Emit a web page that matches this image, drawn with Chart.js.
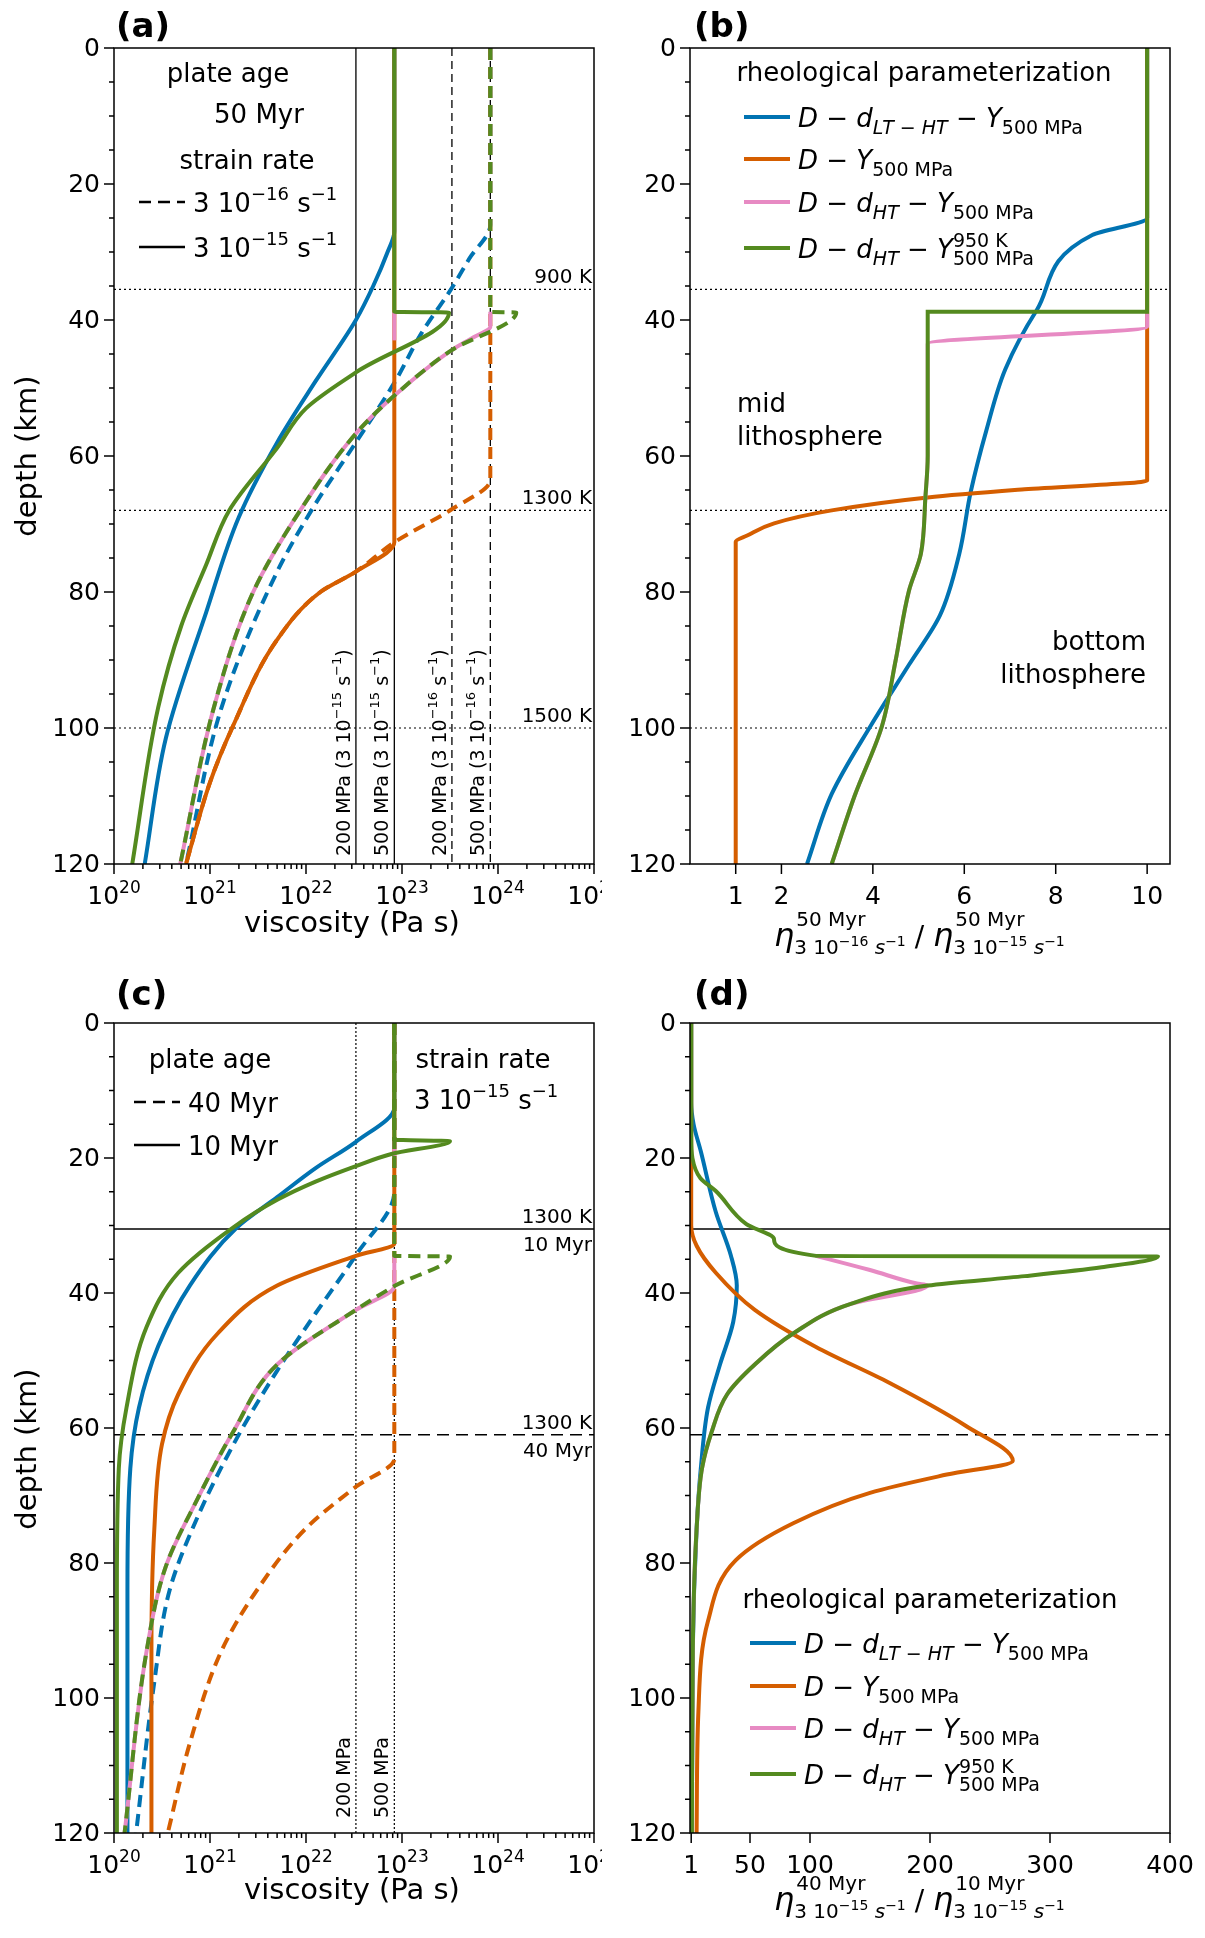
<!DOCTYPE html>
<html>
<head>
<meta charset="utf-8">
<script src="https://cdn.jsdelivr.net/npm/chart.js@4.4.1/dist/chart.umd.min.js"></script>
<style>
  body { margin: 0; background: #fff; width: 1205px; height: 1938px; position: relative; overflow: hidden; }
  canvas { position: absolute; }
</style>
</head>
<body>
<canvas id="pa" width="602" height="969" style="left:0;top:0"></canvas>
<canvas id="pb" width="603" height="969" style="left:602px;top:0"></canvas>
<canvas id="pc" width="602" height="969" style="left:0;top:969px"></canvas>
<canvas id="pd" width="603" height="969" style="left:602px;top:969px"></canvas>
<script>

// =======================
// COLOURS / FONT
// =======================

const BLUE = "#0173b2";
const ORANGE = "#d55e00";
const PINK = "#e78ac3";
const GREEN = "#548a1f";
const FONT = "DejaVu Sans";

// =======================
// DATA  [log10 viscosity or ratio, depth km]
// =======================

// panel (a) : 50 Myr, strain rate 3e-15 (solid) / 3e-16 (dashed)
const aBlueSolid   = [[22.92,0],[22.92,27],[22.85,30],[22.7,35],[22.52,40],[22.1,49],[21.7,58],[21.3,69],[20.96,83],[20.54,101.5],[20.32,120]];
const aGreenSolid  = [[22.92,0],[22.92,38.8],[23.49,38.9],[22.52,47.7],[22.0,53],[21.7,58.8],[21.2,68],[20.96,76],[20.7,85],[20.46,97],[20.19,120]];
const aPinkSolid   = [[22.92,38.8],[22.92,43]];
const aOrangeSolid = [[22.92,0],[22.92,72.7],[22.52,77],[22.15,80],[21.7,87],[21.24,99.7],[21.0,108],[20.75,120]];
const aBlueDash    = [[23.92,0],[23.92,26],[23.7,31],[23.51,35.5],[23.2,42],[22.93,49],[22.52,58],[22.1,67],[21.7,77],[21.12,97],[20.75,120]];
const aGreenDash   = [[23.92,0],[23.92,38.8],[24.19,38.9],[23.51,44.5],[22.93,51],[22.52,56.7],[21.94,68],[21.45,80],[21.04,97],[20.69,120]];
const aPinkDash    = [[23.92,38.8],[23.92,41],[23.75,42.5],[23.51,44.5],[22.93,51],[22.52,56.7],[21.94,68],[21.45,80],[21.04,97],[20.69,120]];
const aOrangeDash  = [[23.92,0],[23.92,63.5],[23.51,67.9],[22.93,72.6],[22.52,77],[22.15,80],[21.7,87],[21.24,99.7],[21.0,108],[20.75,120]];
const aStressSolid = [22.52, 22.92];
const aStressDash  = [23.52, 23.92];
const tempDepths   = [35.5, 68, 100];
const tempLabels   = ["900 K", "1300 K", "1500 K"];

// panel (b) : ratio of viscosities
const bBlue   = [[10,0],[10,25],[8.8,27.5],[7.58,38.6],[6.9,47.2],[6.48,56.3],[6.14,65.3],[5.89,74.4],[5.47,83.4],[4.79,90.7],[3.95,99.7],[3.1,109.7],[2.56,120]];
const bOrange = [[10,0],[10,63.6],[7.32,64.9],[5.2,66.1],[3.1,68],[1.84,69.9],[1.25,71.7],[1,72.6],[1,120]];
const bPink   = [[10,39],[10,41],[5.2,43.5],[5.2,60],[5.15,66],[5.05,74.4],[4.79,79.8],[4.5,90],[4.2,99.7],[3.6,110],[3.1,120]];
const bGreen  = [[10,0],[10,38.8],[5.2,38.8],[5.2,60],[5.15,66],[5.05,74.4],[4.79,79.8],[4.5,90],[4.2,99.7],[3.6,110],[3.1,120]];
const bTicks  = [1, 2, 4, 6, 8, 10];

// panel (c) : strain rate 3e-15, 10 Myr (solid) / 40 Myr (dashed)
const cGreenSolid  = [[22.92,0],[22.92,17.3],[23.5,17.5],[22.89,19.4],[22.52,21.2],[22.1,23.5],[21.7,26.2],[21.24,30.3],[20.67,37],[20.34,45],[20.13,57],[20.05,66],[20.03,84],[20.03,120]];
const cBlueSolid   = [[22.92,0],[22.92,12.5],[22.52,17.6],[22.1,21.5],[21.7,25.8],[21.28,30.3],[20.79,38.9],[20.46,47.9],[20.26,57],[20.17,66],[20.14,84],[20.14,120]];
const cOrangeSolid = [[22.92,0],[22.92,32.7],[22.52,34.5],[21.7,38.9],[21.08,46],[20.67,55],[20.5,62.4],[20.42,75],[20.39,93],[20.39,120]];
const cPinkSolid   = [[22.92,17.5],[22.92,20]];
const cBlueDash    = [[22.92,0],[22.92,25],[22.52,34.4],[22.1,43],[21.7,51.5],[21.28,61.5],[20.87,73.2],[20.58,84],[20.42,97.6],[20.23,120]];
const cGreenDash   = [[22.92,0],[22.92,34.5],[23.5,34.6],[22.93,38.9],[22.52,42.5],[21.7,50.6],[21.24,60.6],[20.87,70.5],[20.54,80.5],[20.34,93],[20.11,120]];
const cPinkDash    = [[22.92,34.5],[22.92,39],[22.52,42.5],[21.7,50.6],[21.24,60.6],[20.87,70.5],[20.54,80.5],[20.34,93],[20.11,120]];
const cOrangeDash  = [[22.92,0],[22.92,64.6],[22.52,68.7],[21.99,75],[21.49,84],[21.12,93],[20.79,106.7],[20.56,120]];
const cStress      = [22.52, 22.92];
const cIsoSolid    = 30.5;
const cIsoDash     = 61;

// panel (d) : ratio 40 Myr / 10 Myr
const dGreen  = [[1,0],[1,17],[2,20],[8.7,23],[21.5,24.9],[47,29.8],[70,32],[105,34.5],[390,34.6],[343,36.2],[279,37.5],[198,38.9],[134,41.6],[86,46],[54,50.6],[31,55],[18,60.6],[10,66],[5.5,75],[2.3,93],[1.6,120]];
const dPink   = [[105,34.5],[150,36.6],[189,38.6],[198,38.9],[134,41.6],[86,46],[54,50.6],[31,55],[18,60.6],[10,66],[5.5,75],[2.3,93],[1.6,120]];
const dBlue   = [[1,0],[1,11.8],[3,15],[9,19],[21.5,28],[34,34.4],[39,38.9],[36,44.3],[25,50.6],[15,57],[9,66],[5.5,75],[2.3,93],[1.6,120]];
const dOrange = [[1,0],[1,30],[5.5,33],[21.5,37],[54,42.5],[105,48],[166,53.3],[230,59.7],[269,64.9],[214,66.9],[150,69.6],[86,74.1],[38,79.6],[15,88.6],[7,102],[5.5,120]];
const dTicks  = [1, 50, 100, 200, 300, 400];

const depthTicks = [0, 20, 40, 60, 80, 100, 120];

// =======================
// HELPERS
// =======================

const logPts = arr => arr.map(p => ({ x: Math.pow(10, p[0]), y: p[1] }));
const linPts = arr => arr.map(p => ({ x: p[0], y: p[1] }));

function curve(data, color, dashed, order, width) {
  return {
    data: data,
    borderColor: color,
    borderWidth: width || 4,
    borderDash: dashed ? [12, 7] : [],
    pointRadius: 0,
    fill: false,
    cubicInterpolationMode: "monotone",
    order: order
  };
}

function refLine(data, dash, width) {
  return {
    data: data,
    borderColor: "#000",
    borderWidth: width || 1.3,
    borderDash: dash,
    pointRadius: 0,
    fill: false,
    tension: 0,
    order: 20
  };
}

// draws parts: {t, f, dy, it, na (no advance)}
function rich(ctx, parts, x, y) {
  let cx = x;
  parts.forEach(p => {
    ctx.font = (p.it ? "italic " : "") + (p.b ? "bold " : "") + p.f + "px " + FONT;
    ctx.textAlign = "left";
    ctx.textBaseline = "alphabetic";
    ctx.fillText(p.t, cx, y + (p.dy || 0));
    if (!p.na) cx += ctx.measureText(p.t).width;
  });
  return cx;
}

function text(ctx, t, x, y, size, align, base, bold) {
  ctx.font = (bold ? "bold " : "") + size + "px " + FONT;
  ctx.textAlign = align || "left";
  ctx.textBaseline = base || "alphabetic";
  ctx.fillStyle = "#000";
  ctx.fillText(t, x, y);
}

function frameAndTicks(chart, isLog, xTickVals) {
  const ctx = chart.ctx;
  const a = chart.chartArea;
  const xs = chart.scales.x, ys = chart.scales.y;
  ctx.save();
  ctx.strokeStyle = "#000";
  ctx.fillStyle = "#000";
  ctx.lineWidth = 1.5;
  ctx.strokeRect(a.left, a.top, a.right - a.left, a.bottom - a.top);

  // y ticks
  for (let d = 0; d <= 120; d += 5) {
    const py = ys.getPixelForValue(d);
    const major = d % 20 === 0;
    ctx.beginPath();
    ctx.moveTo(a.left, py);
    ctx.lineTo(a.left - (major ? 10 : 5), py);
    ctx.stroke();
    if (major) text(ctx, String(d), a.left - 14, py + 1, 25, "right", "middle");
  }

  // x ticks
  if (isLog) {
    for (let e = 20; e <= 25; e++) {
      const px = xs.getPixelForValue(Math.pow(10, e));
      ctx.beginPath(); ctx.moveTo(px, a.bottom); ctx.lineTo(px, a.bottom + 10); ctx.stroke();
      ctx.font = "25px " + FONT;
      const w1 = ctx.measureText("10").width;
      ctx.font = "17px " + FONT;
      const w2 = ctx.measureText(String(e)).width;
      rich(ctx, [{ t: "10", f: 25 }, { t: String(e), f: 17, dy: -11 }], px - (w1 + w2) / 2, a.bottom + 40);
      if (e < 25) {
        for (let m = 2; m <= 9; m++) {
          const pm = xs.getPixelForValue(m * Math.pow(10, e));
          ctx.beginPath(); ctx.moveTo(pm, a.bottom); ctx.lineTo(pm, a.bottom + 5); ctx.stroke();
        }
      }
    }
  } else {
    xTickVals.forEach(v => {
      const px = xs.getPixelForValue(v);
      ctx.beginPath(); ctx.moveTo(px, a.bottom); ctx.lineTo(px, a.bottom + 10); ctx.stroke();
      text(ctx, String(v), px, a.bottom + 40, 25, "center");
    });
  }
  ctx.restore();
}

function rotated(ctx, parts, x, y) {
  ctx.save();
  ctx.translate(x, y);
  ctx.rotate(-Math.PI / 2);
  ctx.fillStyle = "#000";
  rich(ctx, parts, 0, 0);
  ctx.restore();
}

function depthTitle(ctx, x, y) {
  ctx.save();
  ctx.translate(x, y);
  ctx.rotate(-Math.PI / 2);
  text(ctx, "depth (km)", 0, 0, 29, "center", "middle");
  ctx.restore();
}

function legendRow(ctx, x, y, color, dashed, parts) {
  ctx.save();
  ctx.strokeStyle = color;
  ctx.lineWidth = dashed === "ref" ? 2.5 : 4;
  ctx.setLineDash(dashed === true ? [12, 7] : (dashed === "refdash" ? [12, 7] : []));
  if (dashed === "refdash") ctx.lineWidth = 2.5;
  ctx.beginPath(); ctx.moveTo(x, y); ctx.lineTo(x + 46, y); ctx.stroke();
  ctx.restore();
  ctx.fillStyle = "#000";
  rich(ctx, parts, x + 54, y + 10);
}

const M = { f: 26, it: true };
function mathLabel(kind) {
  const sub = 19;
  if (kind === 0) return [{ t: "D − d", f: 26, it: true }, { t: "LT − HT", f: sub, it: true, dy: 7 }, { t: " − Y", f: 26, it: true }, { t: "500 MPa", f: sub, dy: 7 }];
  if (kind === 1) return [{ t: "D − Y", f: 26, it: true }, { t: "500 MPa", f: sub, dy: 7 }];
  if (kind === 2) return [{ t: "D − d", f: 26, it: true }, { t: "HT", f: sub, it: true, dy: 7 }, { t: " − Y", f: 26, it: true }, { t: "500 MPa", f: sub, dy: 7 }];
  return [{ t: "D − d", f: 26, it: true }, { t: "HT", f: sub, it: true, dy: 7 }, { t: " − Y", f: 26, it: true }, { t: "950 K", f: sub, dy: -11, na: true }, { t: "500 MPa", f: sub, dy: 7 }];
}

function legendBlock(ctx, cx, ty, rows) {
  text(ctx, "rheological parameterization", cx, ty, 26, "center", "middle");
  const colors = [BLUE, ORANGE, PINK, GREEN];
  rows.forEach((ry, i) => legendRow(ctx, cx - 180, ry, colors[i], false, mathLabel(i)));
}

function etaTitle(ctx, x, y, supA, expA, supB, expB) {
  ctx.fillStyle = "#000";
  const sub = (e) => [{ t: "3 10", f: 20, dy: 8 }, { t: e, f: 14, dy: 0 }, { t: " s", f: 20, it: true, dy: 8 }, { t: "−1", f: 14, dy: 0 }];
  let cx = rich(ctx, [{ t: "η", f: 32, it: true }], x, y);
  rich(ctx, [{ t: supA, f: 20 }], cx + 2, y - 20);
  cx = rich(ctx, sub(expA), cx, y);
  cx = rich(ctx, [{ t: " / ", f: 28 }, { t: "η", f: 32, it: true }], cx, y);
  rich(ctx, [{ t: supB, f: 20 }], cx + 2, y - 20);
  rich(ctx, sub(expB), cx, y);
}

function makeChart(id, datasets, isLog, xmin, xmax, padL, padR, padT, yWidth, decor) {
  return new Chart(document.getElementById(id).getContext("2d"), {
    type: "line",
    data: { datasets: datasets },
    options: {
      responsive: false,
      animation: false,
      devicePixelRatio: 1,
      indexAxis: "y",
      layout: { padding: { left: padL, right: padR, top: padT, bottom: 0 } },
      plugins: { legend: { display: false }, tooltip: { enabled: false } },
      scales: {
        x: {
          type: isLog ? "logarithmic" : "linear",
          min: xmin, max: xmax,
          grid: { display: false }, border: { display: false },
          ticks: { display: false },
          afterFit: s => { s.height = 105; }
        },
        y: {
          type: "linear", min: 0, max: 120, reverse: true,
          grid: { display: false }, border: { display: false },
          ticks: { display: false },
          afterFit: s => { s.width = yWidth; }
        }
      }
    },
    plugins: [{
      id: "decor",
      afterDraw: chart => decor(chart)
    }]
  });
}

// =======================
// PANEL (a)
// =======================

const aSets = [
  curve(logPts(aGreenSolid), GREEN, false, 1),
  curve(logPts(aGreenDash), GREEN, true, 1),
  curve(logPts(aPinkSolid), PINK, false, 2),
  curve(logPts(aPinkDash), PINK, false, 2),
  curve(logPts(aOrangeSolid), ORANGE, false, 3),
  curve(logPts(aOrangeDash), ORANGE, true, 3),
  curve(logPts(aBlueSolid), BLUE, false, 4),
  curve(logPts(aBlueDash), BLUE, true, 4)
];
aStressSolid.forEach(v => aSets.push(refLine(logPts([[v, 0], [v, 120]]), [])));
aStressDash.forEach(v => aSets.push(refLine(logPts([[v, 0], [v, 120]]), [8, 5])));
tempDepths.forEach(d => aSets.push(refLine(logPts([[20, d], [25, d]]), [2, 3], 1.2)));

makeChart("pa", aSets, true, 1e20, 1e25, 0, 8, 48, 114, chart => {
  const ctx = chart.ctx, a = chart.chartArea, xs = chart.scales.x, ys = chart.scales.y;
  frameAndTicks(chart, true);
  text(ctx, "(a)", 116, 28, 34, "left", "middle", true);
  depthTitle(ctx, 28, 456);
  text(ctx, "viscosity (Pa s)", 352, 932, 29, "center");
  text(ctx, "plate age", 228, 75, 26, "center", "middle");
  text(ctx, "50 Myr", 259, 116, 26, "center", "middle");
  text(ctx, "strain rate", 247, 162, 26, "center", "middle");
  legendRow(ctx, 139, 202, "#000", "refdash", [{ t: "3 10", f: 26 }, { t: "−16", f: 18, dy: -12 }, { t: " s", f: 26 }, { t: "−1", f: 18, dy: -12 }]);
  legendRow(ctx, 139, 247, "#000", "ref", [{ t: "3 10", f: 26 }, { t: "−15", f: 18, dy: -12 }, { t: " s", f: 26 }, { t: "−1", f: 18, dy: -12 }]);
  tempDepths.forEach((d, i) => text(ctx, tempLabels[i], a.right - 2, ys.getPixelForValue(d) - 6, 20, "right"));
  const lab = (mpa, e) => [{ t: mpa + " MPa (3 10", f: 19 }, { t: e, f: 13, dy: -9 }, { t: " s", f: 19 }, { t: "−1", f: 13, dy: -9 }, { t: ")", f: 19 }];
  aStressSolid.concat(aStressDash).forEach((v, i) => {
    const px = xs.getPixelForValue(Math.pow(10, v));
    rotated(ctx, lab(i % 2 === 0 ? 200 : 500, i < 2 ? "−15" : "−16"), px - 6, 856);
  });
});

// =======================
// PANEL (b)
// =======================

makeChart("pb", [
  curve(linPts(bGreen), GREEN, false, 1),
  curve(linPts(bPink), PINK, false, 2),
  curve(linPts(bOrange), ORANGE, false, 3),
  curve(linPts(bBlue), BLUE, false, 4)
].concat(tempDepths.map(d => refLine(linPts([[0, d], [10.5, d]]), [2, 3], 1.2))),
false, 0, 10.5, 0, 35, 48, 88, chart => {
  const ctx = chart.ctx;
  frameAndTicks(chart, false, bTicks);
  text(ctx, "(b)", 92, 28, 34, "left", "middle", true);
  legendBlock(ctx, 322, 74, [117, 159, 202, 248]);
  text(ctx, "mid", 135, 405, 26, "left", "middle");
  text(ctx, "lithosphere", 135, 438, 26, "left", "middle");
  text(ctx, "bottom", 544, 643, 26, "right", "middle");
  text(ctx, "lithosphere", 544, 676, 26, "right", "middle");
  etaTitle(ctx, 172, 946, "50 Myr", "−16", "50 Myr", "−15");
});

// =======================
// PANEL (c)
// =======================

makeChart("pc", [
  curve(logPts(cGreenSolid), GREEN, false, 1),
  curve(logPts(cGreenDash), GREEN, true, 1),
  curve(logPts(cPinkSolid), PINK, false, 2),
  curve(logPts(cPinkDash), PINK, false, 2),
  curve(logPts(cOrangeSolid), ORANGE, false, 3),
  curve(logPts(cOrangeDash), ORANGE, true, 3),
  curve(logPts(cBlueSolid), BLUE, false, 4),
  curve(logPts(cBlueDash), BLUE, true, 4),
  refLine(logPts([[cStress[0], 0], [cStress[0], 120]]), [2, 2], 1.2),
  refLine(logPts([[cStress[1], 0], [cStress[1], 120]]), [2, 2], 1.2),
  refLine(logPts([[20, cIsoSolid], [25, cIsoSolid]]), [], 1.5),
  refLine(logPts([[20, cIsoDash], [25, cIsoDash]]), [12, 7], 1.5)
], true, 1e20, 1e25, 0, 8, 54, 114, chart => {
  const ctx = chart.ctx, a = chart.chartArea, xs = chart.scales.x, ys = chart.scales.y;
  frameAndTicks(chart, true);
  text(ctx, "(c)", 116, 27, 34, "left", "middle", true);
  depthTitle(ctx, 28, 480);
  text(ctx, "viscosity (Pa s)", 352, 930, 29, "center");
  text(ctx, "plate age", 210, 92, 26, "center", "middle");
  legendRow(ctx, 134, 133, "#000", "refdash", [{ t: "40 Myr", f: 26 }]);
  legendRow(ctx, 134, 176, "#000", "ref", [{ t: "10 Myr", f: 26 }]);
  text(ctx, "strain rate", 483, 92, 26, "center", "middle");
  ctx.font = "26px " + FONT;
  rich(ctx, [{ t: "3 10", f: 26 }, { t: "−15", f: 18, dy: -12 }, { t: " s", f: 26 }, { t: "−1", f: 18, dy: -12 }], 414, 140);
  text(ctx, "1300 K", a.right - 2, ys.getPixelForValue(cIsoSolid) - 6, 20, "right");
  text(ctx, "10 Myr", a.right - 2, ys.getPixelForValue(cIsoSolid) + 22, 20, "right");
  text(ctx, "1300 K", a.right - 2, ys.getPixelForValue(cIsoDash) - 6, 20, "right");
  text(ctx, "40 Myr", a.right - 2, ys.getPixelForValue(cIsoDash) + 22, 20, "right");
  cStress.forEach((v, i) => {
    const px = xs.getPixelForValue(Math.pow(10, v));
    rotated(ctx, [{ t: (i === 0 ? 200 : 500) + " MPa", f: 19 }], px - 6, 849);
  });
});

// =======================
// PANEL (d)
// =======================

makeChart("pd", [
  curve(linPts(dGreen), GREEN, false, 1),
  curve(linPts(dPink), PINK, false, 2),
  curve(linPts(dOrange), ORANGE, false, 3),
  curve(linPts(dBlue), BLUE, false, 4),
  refLine(linPts([[0, cIsoSolid], [400, cIsoSolid]]), [], 1.5),
  refLine(linPts([[0, cIsoDash], [400, cIsoDash]]), [12, 7], 1.5)
], false, 0, 400, 0, 35, 54, 88, chart => {
  const ctx = chart.ctx;
  frameAndTicks(chart, false, dTicks);
  text(ctx, "(d)", 92, 27, 34, "left", "middle", true);
  legendBlock(ctx, 328, 632, [674, 717, 759, 805]);
  etaTitle(ctx, 172, 941, "40 Myr", "−15", "10 Myr", "−15");
});

</script>
</body>
</html>
